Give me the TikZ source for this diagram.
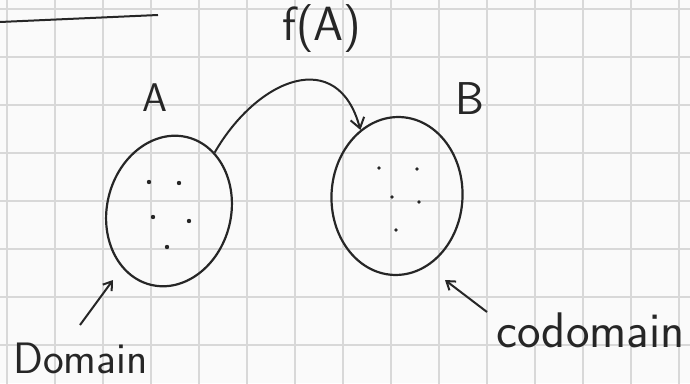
\documentclass[tikz,border=0pt]{standalone}
\usepackage{tikz}
\usetikzlibrary{arrows.meta,shapes.geometric}
\definecolor{ink}{HTML}{262626}
\definecolor{paperline}{HTML}{D8D8D8}
\tikzset{
  setoval/.style  = {ellipse,draw=ink,line width=2.2pt,inner sep=0pt},
  penarr/.style   = {-{Straight Barb[length=10pt,width=14pt,line width=2pt]},draw=ink,line width=2pt},
  pointer/.style  = {-{Straight Barb[length=8pt,width=11pt,line width=2pt]},draw=ink,line width=2pt},
  gridline/.style = {paperline,line width=1.4pt},
  handtext/.style = {ink,inner sep=0pt,font=\sffamily\fontsize{#1}{#1}\selectfont}
}
\newcommand{\squarepaper}[4]{%
  \begin{scope}
    \clip (#1,#3) rectangle (#2,#4);
    \fill[gray!4] (#1,#3) rectangle (#2,#4);
    \draw[gridline,step=48pt,shift={(7,38)}] (-48,-48) grid (700,360);
  \end{scope}
}
\begin{document}
\begin{tikzpicture}[x=1pt,y=1pt]
  \useasboundingbox (0,0) rectangle (690,383);
  \squarepaper{0}{690}{0}{383}
  \draw[ink,line width=2pt] (0,361) -- (158,368);

  % the two sets
  \node[setoval,minimum width=124pt,minimum height=152pt,rotate=-14] (setA) at (169,172) {};
  \node[setoval,minimum width=131pt,minimum height=158pt,rotate=-3] (setB) at (397,187) {};
  \foreach \p in {(149,201),(179,200),(153,166),(189,162),(167,136)}
    \fill[ink] \p circle (2.2pt);
  \foreach \p in {(379,215),(417,214),(392,186),(419,181),(396,153)}
    \fill[ink] \p circle (1.9pt);

  \node[handtext=40,anchor=base] (lblA) at (155,271) {A};
  \node[handtext=46,anchor=base] (lblB) at (470,268) {B};
  \node[handtext=48,anchor=base] (lblf) at (322,342) {f(A)};
  \node[handtext=44,anchor=base west] (lbldom) at (13,10) {Domain};
  \node[handtext=50,anchor=base west] (lblcod) at (496,36) {codomain};

  \draw[penarr] (setA.66) to[out=60,in=105,looseness=1.5] (setB.122);

  \coordinate (domtail) at (80,58);
  \coordinate (domtip) at (113,103);
  \coordinate (codtail) at (487,71);
  \coordinate (codtip) at (445,103);
  \draw[pointer] (domtail) -- (domtip);
  \draw[pointer] (codtail) -- (codtip);
\end{tikzpicture}
\end{document}
